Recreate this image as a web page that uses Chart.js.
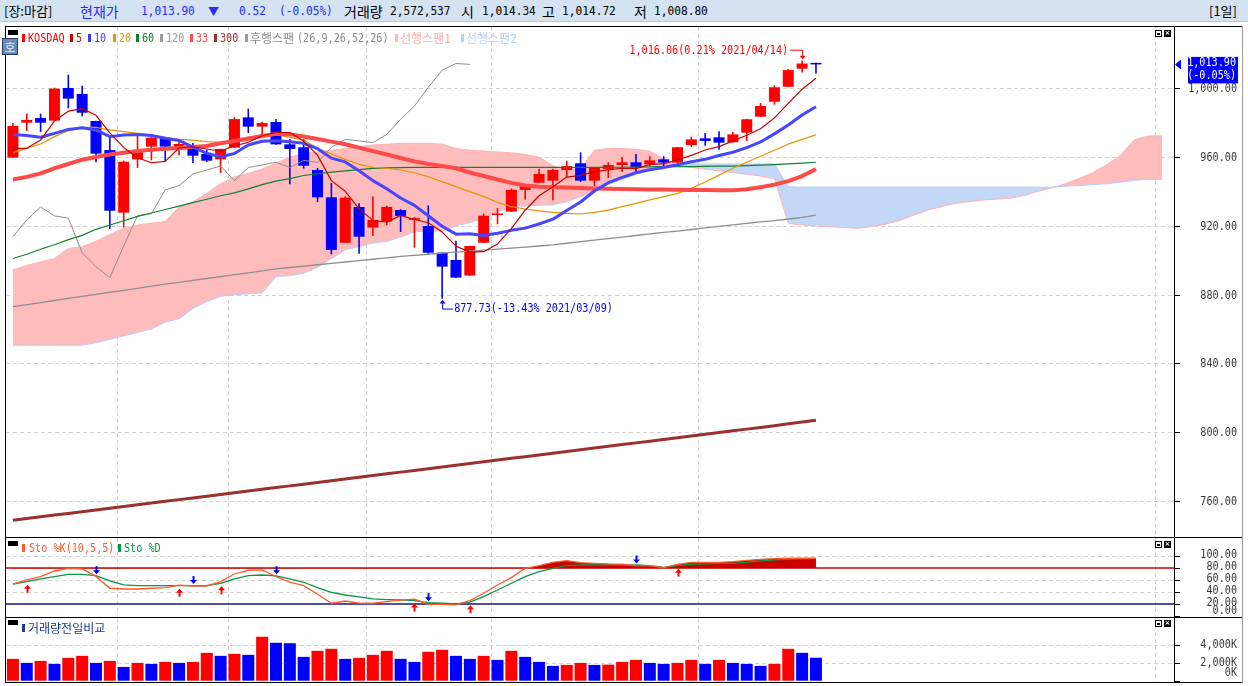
<!DOCTYPE html>
<html><head><meta charset="utf-8">
<script src="https://cdn.jsdelivr.net/npm/chart.js@4.4.1/dist/chart.umd.min.js"></script>
<style>
html,body{margin:0;padding:0;background:#fff;width:1248px;height:686px;overflow:hidden;position:relative;}
.t{position:absolute;white-space:nowrap;font-family:'DejaVu Sans Mono','Noto Sans CJK KR',monospace;font-size:13px;line-height:14px;height:14px;transform-origin:0 50%;}
.m{transform:scaleX(0.78);}
.h{transform:scaleX(0.86);}
.k{font-family:'Noto Sans CJK KR',sans-serif;transform:none;}
.wrap{position:absolute;left:0;width:1248px;}
</style></head><body>
<div id="hdr" style="position:absolute;left:0;top:0;width:1248px;height:21px;background:#d4e2f2;border-bottom:1px solid #b9c9da;"></div>
<div class="wrap" style="top:27px;height:510px;"><canvas id="cMain"></canvas></div>
<div class="wrap" style="top:538px;height:79px;"><canvas id="cSto"></canvas></div>
<div class="wrap" style="top:618px;height:64px;"><canvas id="cVol"></canvas></div>
<div id="over"></div>
<script>
// ---------------- data ----------------
const dates = ['2021/01/20','2021/01/21','2021/01/22','2021/01/25','2021/01/26','2021/01/27','2021/01/28','2021/01/29',
'2021/02/01','2021/02/02','2021/02/03','2021/02/04','2021/02/05','2021/02/08','2021/02/09','2021/02/10','2021/02/15','2021/02/16','2021/02/17','2021/02/18','2021/02/19','2021/02/22','2021/02/23','2021/02/24','2021/02/25','2021/02/26',
'2021/03/02','2021/03/03','2021/03/04','2021/03/05','2021/03/08','2021/03/09','2021/03/10','2021/03/11','2021/03/12','2021/03/15','2021/03/16','2021/03/17','2021/03/18','2021/03/19','2021/03/22','2021/03/23','2021/03/24','2021/03/25','2021/03/26','2021/03/29','2021/03/30','2021/03/31',
'2021/04/01','2021/04/02','2021/04/05','2021/04/06','2021/04/07','2021/04/08','2021/04/09','2021/04/12','2021/04/13','2021/04/14','2021/04/15'];
const opens  = [959.7,980.0,982.7,981.2,1000.2,996.7,981.0,964.1,927.7,958.7,966.1,970.9,965.1,966.1,961.8,958.7,965.5,983.1,977.7,980.4,967.4,965.7,952.5,936.6,910.2,931.0,919.0,922.5,929.2,923.5,919.9,904.4,900.2,891.1,910.2,926.3,928.3,940.9,945.1,946.3,952.5,956.4,946.3,953.1,955.4,957.0,955.8,958.7,956.8,967.0,970.9,971.5,968.6,974.2,983.5,992.2,1000.9,1011.4,1014.34];
const highs  = [979.6,985.1,985.1,1000.2,1007.7,1001.3,981.0,970.9,957.8,972.3,971.3,970.9,969.9,968.0,964.1,964.7,983.1,988.0,980.4,982.0,970.3,970.3,953.5,944.8,937.0,933.0,937.0,931.5,929.5,925.0,931.8,904.4,911.2,908.3,926.9,930.2,941.5,943.4,953.1,953.0,957.7,962.6,954.0,956.8,959.9,961.6,960.3,960.3,965.7,971.7,973.8,974.8,974.4,982.0,991.3,1001.5,1011.0,1016.06,1014.72];
const lows   = [959.7,975.4,974.8,981.2,988.5,983.9,957.2,918.4,919.2,953.9,958.3,957.7,961.2,956.8,957.3,951.0,965.5,974.2,972.9,967.4,944.4,953.5,934.1,903.6,910.2,904.0,914.3,920.5,916.6,907.5,904.0,877.73,889.9,891.1,910.2,921.1,928.3,935.4,945.1,935.1,948.2,945.7,943.4,948.0,951.5,951.5,954.8,954.8,956.4,966.1,966.7,964.5,968.6,969.6,983.5,990.7,1000.9,1009.3,1008.80];
const closes = [978.1,981.6,980.0,999.8,994.0,985.8,962.0,928.8,957.3,964.1,971.3,966.1,967.6,960.8,957.9,964.7,982.1,977.7,979.8,967.4,964.7,955.0,936.6,906.0,936.4,913.7,923.4,931.0,925.8,924.5,904.4,896.3,889.9,908.3,925.9,927.1,940.9,943.4,950.2,952.5,954.8,946.3,953.9,955.4,957.0,953.9,958.1,956.8,965.7,970.3,969.4,968.4,973.2,982.0,989.7,1000.6,1010.6,1014.42,1013.90];
const volumes = [2446,1995,2220,1882,2558,2784,1995,2220,1544,1995,1882,2107,1995,2107,3122,2784,3009,2897,4924,4248,4200,2671,3347,3573,2446,2558,2897,3347,2446,2107,3235,3460,2784,2446,2784,2333,3347,2671,2107,1657,1769,1995,1769,1800,2107,2333,1995,1882,1995,2333,1882,2333,1995,1882,1657,1882,3573,3122,2573];

const ma5   = [965.1,965.1,969.9,981.0,986.7,988.2,984.3,974.1,965.6,959.6,956.7,957.5,965.3,966.0,964.7,963.4,966.6,968.6,972.4,974.3,974.3,969.3,961.1,946.3,940.1,929.9,923.2,922.1,926.1,923.7,921.8,916.4,908.2,904.7,905.0,909.5,918.4,929.1,937.5,942.8,948.4,949.4,951.5,952.6,953.5,953.3,955.7,956.2,958.3,961.0,964.1,966.1,969.4,972.7,976.5,982.8,991.2,999.5,1005.8];
const ma10  = [973.2,972.5,971.5,973.8,976.1,977.1,975.8,971.9,972.8,973.2,972.5,970.9,969.7,965.8,962.2,960.1,962.1,967.0,969.2,969.5,968.9,968.0,964.9,959.4,957.2,952.1,946.3,941.6,936.2,931.9,925.9,919.8,915.2,915.4,914.4,915.7,917.4,918.7,921.1,923.9,929.0,933.9,940.3,945.1,948.2,950.9,952.6,953.9,955.5,957.3,958.7,960.9,962.8,965.5,968.8,973.5,978.7,984.5,989.3];
const ma20  = [962.6,965.1,967.6,971.9,975.4,977.3,977.3,975.8,974.8,973.8,972.8,971.5,970.3,969.9,969.0,968.6,969.0,969.9,971.9,973.2,971.5,969.9,965.1,961.8,958.7,955.8,954.0,953.5,952.5,950.9,948.6,945.7,942.8,939.9,937.0,933.7,931.2,929.8,928.7,927.9,927.3,926.9,927.9,929.2,931.2,933.1,935.1,937.0,938.9,941.8,945.5,949.5,953.5,957.0,960.5,964.0,967.5,970.3,972.9];
const ma60  = [901.0,903.5,906.4,909.0,912.0,914.5,918.0,920.5,923.0,925.5,927.5,929.5,931.5,933.5,935.5,937.5,939.2,941.5,944.0,946.0,947.5,949.3,950.3,951.2,952.0,952.7,953.4,953.7,953.9,954.0,954.0,954.0,954.0,954.0,954.0,954.0,954.0,954.0,954.0,954.0,954.0,954.0,954.0,954.0,954.1,954.2,954.3,954.4,954.5,954.5,954.6,954.7,954.8,955.0,955.3,955.6,956.0,956.5,957.0];
const ma120 = [873.0,874.2,875.4,876.6,877.8,879.0,880.2,881.4,882.5,883.7,885.0,886.1,887.2,888.3,889.4,890.5,891.6,892.7,893.8,895.0,895.8,896.6,897.4,898.2,899.0,899.8,900.6,901.4,902.3,902.9,903.5,904.1,904.7,905.3,905.9,906.5,907.1,907.7,908.3,909.0,909.9,910.8,911.7,912.6,913.5,914.4,915.3,916.2,917.0,917.9,918.8,919.7,920.6,921.5,922.3,923.1,924.0,925.0,926.3];
const ma33  = [947.0,948.5,950.5,953.5,956.0,958.5,960.0,961.5,962.5,963.5,964.2,964.8,965.3,965.8,966.5,968.0,969.4,970.8,972.3,973.5,973.2,972.0,970.5,969.0,967.5,965.5,963.5,961.5,959.5,957.5,956.0,954.8,953.5,951.0,949.0,947.0,945.0,943.5,942.8,942.5,942.3,942.0,941.8,941.6,941.5,941.3,941.2,941.1,941.0,940.9,940.8,940.7,940.7,941.3,942.5,944.0,946.0,949.0,953.0];
const ma300 = [748.8,749.8,750.8,751.8,752.8,753.8,754.8,755.8,756.8,757.8,758.8,759.8,760.8,761.8,762.8,763.8,764.8,765.8,766.8,767.8,768.8,769.8,770.8,771.8,772.8,773.8,774.8,775.8,776.8,777.8,778.8,779.8,780.8,781.8,782.8,783.8,784.8,785.8,786.8,787.8,788.8,789.8,790.8,791.8,792.8,793.8,794.8,795.8,796.8,797.8,798.8,799.8,800.8,801.8,802.8,803.8,804.9,805.9,807.0];
const lagSpan = [913.7,923.4,931.0,925.8,924.5,904.4,896.3,889.9,908.3,925.9,927.1,940.9,943.4,950.2,952.5,954.8,946.3,953.9,955.4,957.0,953.9,958.1,956.8,965.7,970.3,969.4,968.4,973.2,982.0,989.7,1000.6,1010.6,1014.42,1013.9];
const leadSpan1 = [894.3,897.0,899.0,901.0,906.9,907.9,911.0,915.0,918.5,920.5,921.5,922.5,931.0,934.0,938.9,944.5,948.6,950.5,953.0,956.5,960.0,962.0,963.0,964.0,965.0,966.0,967.0,967.5,968.0,968.0,968.0,967.5,965.0,964.0,963.5,963.0,962.5,961.5,960.0,955.0,952.5,953.0,964.0,965.0,965.0,964.5,963.5,959.0,955.0,954.0,953.0,952.0,951.0,950.0,949.0,947.5,921.5,920.5,920.0,919.5,919.0,918.6,919.5,921.0,923.0,926.0,929.0,931.0,933.0,934.0,935.0,935.5,936.0,937.5,940.0,942.0,944.5,947.5,951.0,955.5,961.0,970.0,972.3,972.3];
const leadSpan2 = [850.6,850.6,850.6,850.6,850.6,850.6,852.0,854.0,856.0,858.0,860.0,864.0,866.0,872.0,876.0,879.0,880.0,880.5,881.0,890.5,891.0,892.4,896.0,901.0,906.0,908.0,910.0,911.0,913.5,916.5,917.0,917.0,920.0,921.9,924.4,928.0,931.2,931.5,932.0,932.2,934.0,937.0,940.0,944.0,947.0,950.0,952.5,954.5,956.0,956.0,956.0,956.0,956.0,956.0,956.0,956.0,942.8,942.5,942.5,942.5,942.5,942.5,942.5,942.5,942.5,942.5,942.5,942.5,942.5,942.5,942.5,942.5,942.5,942.5,942.5,942.5,943.0,943.5,944.0,944.5,945.5,946.5,947.0,947.0];
const stoK = [53.8,60.5,66,75.5,80,78.8,66.5,46.7,45.5,45.5,46.7,47.7,52,50.5,50.5,57.7,70.5,76.7,77.2,66,57,51,36.7,21.7,25.5,21.7,21.7,24.4,27,28.5,20,20,18.9,26,38.3,52.2,64.4,80,84.4,90,92.7,89.3,88.3,87.2,86.7,84.5,84,81,86.7,90,90,90,91,93.3,95,96,96.7,96.7,96.7];
const stoD = [53.8,57.7,62.2,66,70,70,67.7,58.9,52.2,51,51,51,51,51.2,51,55,62.2,67.7,68.8,67.5,62.2,56.7,47.7,40,35.5,32.2,28.9,27.8,27.2,26.1,22.7,21.7,20.5,23.5,32.7,43.8,55,66,74.4,80,84.4,85.5,85.5,85.5,85.5,85.5,84.4,81.6,84.4,86.7,87.2,88.3,88.3,90,92.2,93.9,95,95.5,96.2];
const stoUp = [1,12,15,29,33,48];
const stoDown = [6,13,19,30,45];
const priceTicks = [760,800,840,880,920,960,1000];
const stoTicks = [0,20,40,60,80,100];
const stoLevels = [80,20];
const volTicks = [0,2000,4000];
const gridX = [7.5,15.5,25.5,34.5,49.5,82.5];

// ---------------- helpers ----------------
const RED='#ff0000', BLUE='#0000ff';
const pts = a => a.map((v,i)=>({x:i,y:v}));
const candleColors = opens.map((o,i)=> closes[i]>=o ? RED : BLUE);
const volColors = volumes.map((v,i)=> (i===0 || v>=volumes[i-1]) ? RED : BLUE);
const fmt2 = v => v.toLocaleString('en-US',{minimumFractionDigits:2,maximumFractionDigits:2});
const XMIN=-0.5, XMAX=83.86;

function ctext(ctx,s,x,y,align,color,size,sx){
  size=size||13; sx=sx||0.78;
  ctx.save(); ctx.font=size+"px 'DejaVu Sans Mono'"; ctx.fillStyle=color; ctx.textBaseline='middle';
  ctx.translate(x,y); ctx.scale(sx,1);
  const w=ctx.measureText(s).width;
  const dx = align==='right'?-w:(align==='center'?-w/2:0);
  ctx.fillText(s,dx,0); ctx.restore();
}
function dashedGrid(chart, ticks){
  const {ctx, chartArea:a, scales:{x,y}} = chart;
  ctx.save(); ctx.strokeStyle='#d2d2d2'; ctx.lineWidth=1; ctx.setLineDash([4,3]);
  ticks.forEach(v=>{ const py=Math.round(y.getPixelForValue(v))+0.5; if(py<a.top+1||py>a.bottom-1) return;
    ctx.beginPath(); ctx.moveTo(a.left,py); ctx.lineTo(a.right,py); ctx.stroke(); });
  gridX.forEach(v=>{ const px=Math.round(x.getPixelForValue(v))+0.5;
    ctx.beginPath(); ctx.moveTo(px,a.top); ctx.lineTo(px,a.bottom); ctx.stroke(); });
  ctx.restore();
}
function axisLabels(chart, ticks, fmt, clampPad, shift){
  const {ctx, chartArea:a, scales:{y}} = chart;
  ctx.save(); ctx.strokeStyle='#000'; ctx.lineWidth=1;
  ticks.forEach(v=>{
    const py=Math.round(y.getPixelForValue(v))+0.5;
    ctx.beginPath(); ctx.moveTo(a.right,py); ctx.lineTo(a.right+6,py); ctx.stroke();
    let ly = Math.min(py+shift, a.bottom-clampPad);
    ctext(ctx, fmt(v), 1237, ly, 'right', '#383838');
  });
  ctx.restore();
}

const common = (ymin,ymax) => ({
  responsive:true, maintainAspectRatio:false, animation:false,
  layout:{padding:{left:6,right:74,top:0,bottom:0}},
  plugins:{legend:{display:false}, tooltip:{enabled:false}},
  scales:{
    x:{type:'linear',display:false,min:XMIN,max:XMAX,offset:false,bounds:'data'},
    y:{type:'linear',display:false,min:ymin,max:ymax,bounds:'data'}
  }
});
const lineDs = (data,color,w,order) => ({type:'line',data:pts(data),borderColor:color,borderWidth:w,pointRadius:0,fill:false,tension:0,order:order,borderJoinStyle:'round'});

// ---------------- main price chart ----------------
const hiIdx = highs.indexOf(Math.max(...highs));
const loIdx = lows.indexOf(Math.min(...lows));
const last = closes[closes.length-1];
const prevClose = closes[closes.length-2];

const mainDecor = {
  id:'mainDecor',
  beforeDraw(chart){ dashedGrid(chart, priceTicks); },
  afterDatasetsDraw(chart){
    const {ctx, scales:{x,y}} = chart;
    let px=x.getPixelForValue(hiIdx), py=y.getPixelForValue(highs[hiIdx]);
    const hp=((highs[hiIdx]-last)/last*100).toFixed(2);
    ctx.save(); ctx.strokeStyle=RED; ctx.fillStyle=RED; ctx.lineWidth=1;
    ctx.beginPath(); ctx.moveTo(px-12,py-10.5); ctx.lineTo(px+0.5,py-10.5); ctx.lineTo(px+0.5,py-4); ctx.stroke();
    ctx.beginPath(); ctx.moveTo(px-2.5,py-5); ctx.lineTo(px+3.5,py-5); ctx.lineTo(px+0.5,py-1.5); ctx.closePath(); ctx.fill();
    ctx.restore();
    ctext(ctx, fmt2(highs[hiIdx])+'('+hp+'% '+dates[hiIdx]+')', px-14, py-10, 'right', RED);
    px=x.getPixelForValue(loIdx); py=y.getPixelForValue(lows[loIdx]);
    const lp=((lows[loIdx]-last)/last*100).toFixed(2);
    ctx.save(); ctx.strokeStyle=BLUE; ctx.fillStyle=BLUE; ctx.lineWidth=1;
    ctx.beginPath(); ctx.moveTo(px+0.5,py+4); ctx.lineTo(px+0.5,py+10.5); ctx.lineTo(px+11,py+10.5); ctx.stroke();
    ctx.beginPath(); ctx.moveTo(px-2.5,py+5); ctx.lineTo(px+3.5,py+5); ctx.lineTo(px+0.5,py+1.5); ctx.closePath(); ctx.fill();
    ctx.restore();
    ctext(ctx, fmt2(lows[loIdx])+'('+lp+'% '+dates[loIdx]+')', px+12, py+10, 'left', BLUE);
  },
  afterDraw(chart){
    axisLabels(chart, priceTicks, fmt2, 6, 0);
    const {ctx, chartArea:a, scales:{y}} = chart;
    const py=y.getPixelForValue(last);
    ctx.save(); ctx.fillStyle=BLUE;
    ctx.beginPath(); ctx.moveTo(a.right+1,py); ctx.lineTo(a.right+7,py-5); ctx.lineTo(a.right+7,py+5); ctx.closePath(); ctx.fill();
    ctx.fillRect(1188, py-7.5, 50, 26.5);
    ctx.restore();
    const chg=((last-prevClose)/prevClose*100).toFixed(2);
    ctext(ctx, fmt2(last), 1236, py-1.5, 'right', '#fff');
    ctext(ctx, '('+chg+'%)', 1236, py+11.5, 'right', '#fff');
  }
};

new Chart(document.getElementById('cMain'), {
  type:'bar',
  data:{datasets:[
    {type:'line',data:pts(leadSpan1),borderColor:'#ffb2b2',borderWidth:1,pointRadius:0,tension:0,
      fill:{target:1,above:'#ffbcbc',below:'#c3d7f6'},order:100},
    {type:'line',data:pts(leadSpan2),borderColor:'#b6cdf4',borderWidth:1,pointRadius:0,tension:0,fill:false,order:99},
    {type:'bar',data:lows.map((l,i)=>({x:i,y:[l,highs[i]]})),backgroundColor:candleColors,barThickness:1,grouped:false,order:60,inflateAmount:0.3},
    {type:'bar',data:opens.map((o,i)=>({x:i,y:[o,closes[i]]})),backgroundColor:candleColors,barThickness:11,grouped:false,order:59,minBarLength:1.5,inflateAmount:0},
    lineDs(ma300,'#9c2f2f',3,50),
    lineDs(ma120,'#8e8e8e',1.3,48),
    lineDs(lagSpan,'#8e8e8e',1,47),
    lineDs(ma60,'#128032',1.2,46),
    lineDs(ma20,'#e39400',1.2,45),
    lineDs(ma33,'#ff4a4a',4,44),
    lineDs(ma10,'#4646ff',3,43),
    lineDs(ma5,'#c80000',1.2,42)
  ]},
  options:common(739.07, 1035.65),
  plugins:[mainDecor]
});

// ---------------- stochastic ----------------
function arrow(ctx,x,y,dir,color){
  ctx.save(); ctx.fillStyle=color; ctx.strokeStyle=color; ctx.lineWidth=2;
  const s = dir==='up'?1:-1;
  ctx.beginPath(); ctx.moveTo(x,y); ctx.lineTo(x-3.5,y+4*s); ctx.lineTo(x+3.5,y+4*s); ctx.closePath(); ctx.fill();
  ctx.beginPath(); ctx.moveTo(x,y+3*s); ctx.lineTo(x,y+8*s); ctx.stroke();
  ctx.restore();
}
const stoDecor = {
  id:'stoDecor',
  beforeDraw(chart){ dashedGrid(chart, [100,60,40]); },
  beforeDatasetsDraw(chart){
    const {ctx, chartArea:a, scales:{y}} = chart;
    ctx.save(); ctx.lineWidth=1.5;
    stoLevels.forEach((v,k)=>{ const py=Math.round(y.getPixelForValue(v));
      ctx.strokeStyle = k===0 ? '#c80000' : '#14148c';
      ctx.beginPath(); ctx.moveTo(a.left,py); ctx.lineTo(a.right,py); ctx.stroke(); });
    ctx.restore();
  },
  afterDatasetsDraw(chart){
    const {ctx, scales:{x,y}} = chart;
    stoUp.forEach(i=> arrow(ctx, Math.round(x.getPixelForValue(i))+0.5, y.getPixelForValue(stoD[i])+3, 'up', RED));
    stoDown.forEach(i=> arrow(ctx, Math.round(x.getPixelForValue(i))+0.5, y.getPixelForValue(stoD[i])-1.5, 'down', BLUE));
  },
  afterDraw(chart){ axisLabels(chart, stoTicks, v=>v.toFixed(2), 6.5, -1.5); }
};
const stoOpts = common(-1.2, 130.5);
stoOpts.plugins.filler = {drawTime:'beforeDatasetsDraw'};
new Chart(document.getElementById('cSto'), {
  type:'line',
  data:{datasets:[
    {data:pts(stoK),borderColor:'#ff5a28',borderWidth:1.3,pointRadius:0,tension:0,order:1,
      fill:{target:{value:80},above:'#cc0000',below:'rgba(0,0,0,0)'}},
    {data:pts(stoD),borderColor:'#0a9646',borderWidth:1.3,pointRadius:0,tension:0,order:2,
      fill:{target:{value:80},above:'#cc0000',below:'rgba(0,0,0,0)'}}
  ]},
  options:stoOpts,
  plugins:[stoDecor]
});

// ---------------- volume ----------------
const volDecor = {
  id:'volDecor',
  beforeDraw(chart){ dashedGrid(chart, [2000,4000]); },
  afterDraw(chart){ axisLabels(chart, volTicks, v=>v.toLocaleString('en-US')+'K', 9, -0.5); }
};
new Chart(document.getElementById('cVol'), {
  type:'bar',
  data:{datasets:[{data:pts(volumes),backgroundColor:volColors,barThickness:12,inflateAmount:0}]},
  options:common(-145.7, 7025),
  plugins:[volDecor]
});

// ---------------- frame & texts (HTML) ----------------
const over = document.getElementById('over');
function box(l,t,w,h,bg,extra){ const d=document.createElement('div'); d.style.cssText='position:absolute;left:'+l+'px;top:'+t+'px;width:'+w+'px;height:'+h+'px;background:'+bg+';'+(extra||''); over.appendChild(d); return d; }
function txt(x,yc,s,color,cls,size){ const d=document.createElement('div'); d.className='t '+(cls||'m'); d.textContent=s;
  size=size||13; d.style.fontSize=size+'px'; d.style.left=x+'px'; d.style.top=(yc-7)+'px'; d.style.color=color; over.appendChild(d); return d; }
box(5,26,1238,1,'#000'); box(5,537,1238,1,'#000'); box(5,617,1238,1,'#000'); box(5,682,1238,1,'#000');
box(5,26,1,657,'#000'); box(1174,26,1,657,'#000'); box(1242,26,1,657,'#9a9a9a');
// header
txt(4,10.5,'[장:마감]','#000','k',13);
txt(80,10.5,'현재가','#2a2aff','k',14);
txt(141,10.5,'1,013.90','#2a2aff','h');
txt(208,10.5,'▼','#2a2aff','k',11);
txt(239,10.5,'0.52','#2a2aff','h');
txt(279,10.5,'(-0.05%)','#2a2aff','h');
txt(344,10.5,'거래량','#000','k',14);
txt(390,10.5,'2,572,537','#000','h');
txt(461,10.5,'시','#000','k',14);
txt(482,10.5,'1,014.34','#000','h');
txt(542,10.5,'고','#000','k',14);
txt(562,10.5,'1,014.72','#000','h');
txt(634,10.5,'저','#000','k',14);
txt(654,10.5,'1,008.80','#000','h');
txt(1209,10.5,'[1일]','#000','k',13);
// panel icons
[30,541,620].forEach(t=>{
  box(8,t,10,5,'#000');
  box(1155,t,7,7,'#fff','border:1px solid #000;box-sizing:border-box;');
  box(1157,t+3,3,2,'#000');
  const c=box(1164,t,7,7,'#000'); c.style.color='#fff'; c.style.font='bold 7px DejaVu Sans'; c.style.lineHeight='7px'; c.style.textAlign='center'; c.textContent='×';
});
const hb=box(2,38,16,17,'#6a8bb8','border:1px solid #2b3d5e;box-sizing:border-box;color:#e6edf7;font:12px "Noto Sans CJK KR";line-height:15px;text-align:center;');
hb.textContent='호';
// main legend
const LY=38;
const leg=[[22,'KOSDAQ','#ff0000'],[70,'5','#c80000'],[88,'10','#3a3aff'],[113,'20','#e39400'],[136,'60','#128032'],[160,'120','#9a9a9a'],[190,'33','#ff4a4a'],[214,'300','#9c2f2f']];
leg.forEach(([x,s,c])=>{ box(x,LY-4,3,8,c); txt(x+6,LY,s,c,'m'); });
box(245,LY-4,3,8,'#9a9a9a'); txt(250,LY,'후행스팬','#8a8a8a','k',12); txt(297,LY,'(26,9,26,52,26)','#8a8a8a','m');
box(395,LY-4,3,8,'#ffb6b6'); txt(400,LY,'선행스팬1','#ffaaaa','k',12);
box(461,LY-4,3,8,'#bcd0f2'); txt(466,LY,'선행스팬2','#b8cdf2','k',12);
box(22,544,3,8,'#ff5a28'); txt(29,548,'Sto %K(10,5,5)','#ff5a28','m');
box(118,544,3,8,'#0a9646'); txt(124,548,'Sto %D','#0a9646','m');
box(22,624,3,8,'#1a3a8a'); txt(28,628,'거래량전일비교','#1a3a8a','k',12);
</script>
</body></html>
